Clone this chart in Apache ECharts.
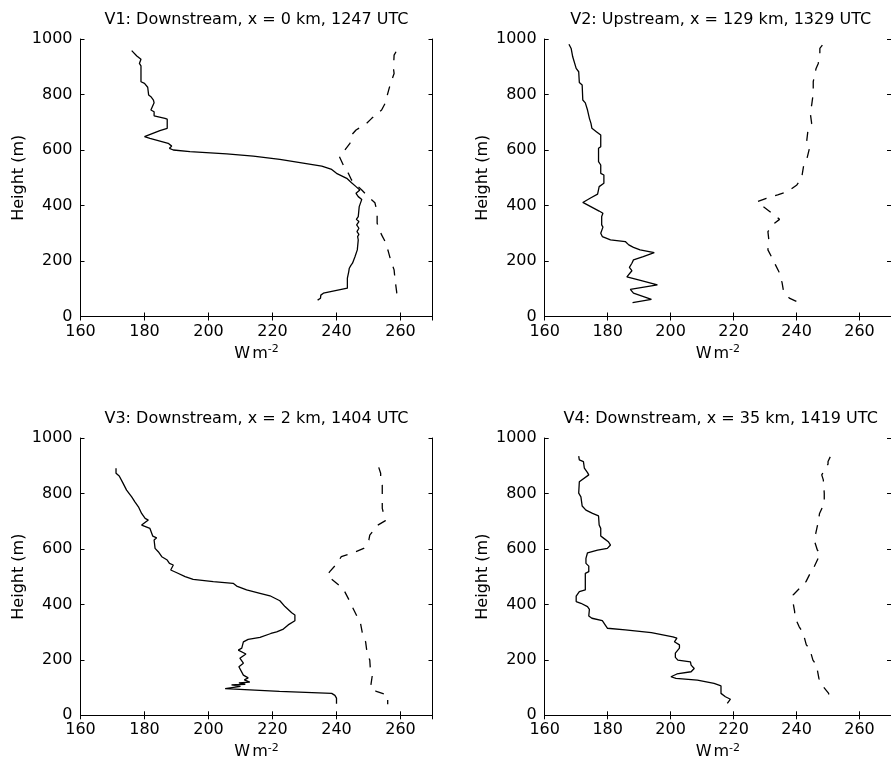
<!DOCTYPE html>
<html>
<head>
<meta charset="utf-8">
<script src="https://cdn.jsdelivr.net/npm/echarts@6/dist/echarts.min.js"></script>
<style>html,body{margin:0;padding:0;background:#fff;}#chart{width:891px;height:775px;}</style>
</head>
<body>
<div id="chart"></div>
<script>
// Panel titles
const titles = [
  'V1: Downstream, x = 0 km, 1247 UTC',
  'V2: Upstream, x = 129 km, 1329 UTC',
  'V3: Downstream, x = 2 km, 1404 UTC',
  'V4: Downstream, x = 35 km, 1419 UTC'
];
const xTickMin = 160, xTickMax = 270, xTickStep = 20;
const yTickMin = 0, yTickMax = 1000, yTickStep = 200;

// [W m-2, height m]
const v1Solid = [[176.0,958],[177.6,939],[178.9,927],[178.4,912],[178.9,903],[178.9,846],[180.0,840],[181.0,826],[181.3,798],[182.0,792],[182.8,780],[183.0,770],[182.0,744],[183.0,738],[183.0,723],[186.4,714],[187.1,711],[187.1,678],[184.8,670],[180.0,648],[181.7,642],[187.4,624],[188.5,614],[187.8,606],[189.0,600],[194.2,594],[205.7,586],[214.0,578],[222.3,566],[235.4,542],[238.5,530],[240.0,516],[243.2,498],[244.7,482],[246.1,468],[247.3,456],[246.1,444],[246.8,432],[247.9,422],[247.1,396],[246.8,360],[246.2,350],[247.0,342],[246.3,330],[247.0,318],[246.4,306],[247.0,296],[246.6,288],[246.8,276],[246.5,240],[245.8,216],[245.0,192],[244.5,184],[244.0,174],[243.8,160],[243.4,138],[243.4,102],[243.0,95],[235.9,84],[235.1,77],[235.0,66],[234.1,59]];
const v1Dashed = [[258.6,954],[258.0,942],[257.8,894],[258.0,876],[256.9,840],[256.3,816],[255.2,768],[254.1,744],[251.0,714],[249.4,696],[246.1,672],[244.7,654],[244.2,624],[242.6,600],[240.9,576],[242.6,534],[243.7,516],[244.7,492],[246.8,468],[247.9,456],[249.9,432],[252.0,410],[252.7,378],[252.7,336],[254.1,294],[255.2,270],[256.2,234],[256.9,204],[258.0,168],[258.3,132],[258.8,89],[259.0,59]];
const v2Solid = [[167.7,981],[168.4,966],[168.9,936],[170.0,894],[170.8,882],[171.0,843],[171.9,834],[172.1,780],[172.9,770],[173.6,744],[174.2,714],[174.7,696],[175.0,678],[176.4,666],[177.8,654],[177.8,612],[177.1,606],[177.1,558],[177.8,546],[177.8,516],[178.8,510],[178.8,480],[177.3,468],[176.8,441],[174.7,428],[172.1,411],[177.3,380],[178.5,372],[178.1,360],[178.1,330],[178.5,322],[177.8,300],[178.3,288],[180.9,276],[185.6,270],[186.7,258],[188.2,249],[190.3,240],[194.8,230],[191.3,216],[188.2,204],[187.7,192],[186.9,177],[187.7,165],[186.1,143],[189.8,132],[195.8,114],[187.2,98],[188.2,84],[193.9,62],[187.9,50]];
const v2Dashed = [[248.2,978],[247.4,966],[247.4,951],[246.9,912],[246.2,894],[245.3,846],[245.3,804],[244.8,762],[244.3,738],[244.8,696],[243.7,678],[243.2,630],[244.1,606],[243.2,564],[242.2,540],[241.6,498],[240.1,474],[237.2,450],[234.0,438],[230.4,426],[227.5,414],[229.4,396],[232.0,374],[234.6,350],[233.0,336],[230.9,306],[231.2,276],[230.9,240],[232.0,216],[233.3,186],[234.4,161],[235.4,122],[235.8,95],[237.7,66],[240.8,50]];
const v3Solid = [[171.1,891],[171.1,873],[172.1,863],[173.2,839],[174.4,812],[176.0,788],[177.0,770],[178.1,752],[179.1,728],[180.2,710],[181.2,704],[179.1,686],[181.7,674],[182.6,646],[183.8,640],[183.0,632],[183.3,602],[184.3,590],[185.4,572],[187.1,560],[187.8,548],[189.0,542],[188.2,524],[190.1,514],[192.7,500],[195.2,490],[201.5,482],[207.7,476],[208.8,466],[211.9,452],[216.1,440],[219.2,431],[222.3,413],[223.9,392],[226.0,370],[227.0,362],[227.0,341],[224.9,326],[223.4,311],[221.3,301],[219.5,295],[216.1,281],[212.4,274],[210.9,265],[210.4,242],[209.3,235],[211.7,221],[209.8,206],[210.9,188],[209.5,175],[210.9,145],[212.4,135],[211.2,128],[212.9,120],[209.5,117],[211.5,112],[207.2,110],[210.0,104],[205.2,96],[222.2,86],[238.5,79],[239.5,72],[240.0,62],[240.0,42]];
const v3Dashed = [[253.2,894],[253.8,873],[253.8,855],[254.3,830],[254.3,782],[254.3,746],[255.3,702],[252.9,686],[250.4,650],[250.1,632],[248.5,602],[245.2,586],[241.5,572],[240.2,548],[237.9,518],[237.1,506],[238.1,494],[240.7,470],[242.3,452],[244.2,410],[244.9,392],[246.7,350],[247.5,332],[248.3,283],[249.1,265],[249.6,221],[250.4,199],[250.6,163],[251.2,145],[250.6,97],[252.7,85],[256.0,73],[256.0,40]];
const v4Solid = [[170.8,935],[171.0,921],[172.3,915],[172.6,891],[173.6,875],[174.0,867],[171.0,842],[170.8,801],[171.5,788],[171.9,755],[173.1,740],[175.2,728],[177.1,719],[177.3,686],[177.8,674],[177.8,647],[178.8,638],[180.2,626],[180.9,614],[179.9,602],[176.8,596],[173.6,586],[173.1,566],[173.1,548],[174.0,538],[174.0,518],[172.9,512],[172.9,452],[171.0,446],[170.0,430],[170.0,410],[171.5,404],[173.6,392],[174.2,382],[174.0,358],[175.0,350],[178.3,341],[179.2,326],[179.9,314],[185.6,308],[193.9,298],[200.7,283],[202.0,278],[201.2,265],[202.8,254],[202.8,242],[201.5,224],[201.5,209],[202.3,199],[206.3,193],[206.5,181],[207.5,169],[206.5,157],[202.0,149],[200.1,139],[201.7,133],[208.5,127],[213.8,115],[216.0,106],[216.0,79],[217.4,67],[219.0,58],[218.0,43]];
const v4Dashed = [[250.7,932],[250.0,915],[250.0,906],[248.0,867],[248.5,849],[248.8,801],[248.8,765],[247.3,728],[246.9,698],[246.1,656],[245.6,632],[246.6,596],[247.6,584],[245.6,536],[244.6,518],[243.0,482],[241.5,464],[238.9,434],[238.9,406],[239.4,374],[239.4,356],[240.8,320],[242.1,296],[243.1,254],[244.1,242],[245.2,199],[246.3,181],[247.1,133],[248.1,109],[250.2,79],[250.2,43]];

const solids = [v1Solid, v2Solid, v3Solid, v4Solid];
const dashes = [v1Dashed, v2Dashed, v3Dashed, v4Dashed];

const FONT = '"DejaVu Sans", "Liberation Sans", Arial, sans-serif';
const panels = [
  {left: 80.5, top: 39, width: 352, height: 277.5},
  {left: 544.7, top: 39, width: 352, height: 277.5},
  {left: 80.5, top: 438, width: 352, height: 277.3},
  {left: 544.7, top: 438, width: 352, height: 277.3}
];

const grid = [], xAxis = [], yAxis = [], series = [], title = [];
const axLine = {show: true, lineStyle: {color: '#000', width: 1}};
const tick = {show: true, inside: true, length: 4, lineStyle: {color: '#000', width: 1}};
panels.forEach((p, i) => {
  grid.push({left: p.left, top: p.top, width: p.width, height: p.height, containLabel: false, show: false});
  title.push({text: titles[i], left: p.left + p.width / 2, top: p.top - 27, textAlign: 'center', padding: 0,
    textStyle: {fontFamily: FONT, fontSize: 16, fontWeight: 'normal', color: '#000'}});
  xAxis.push({type: 'value', gridIndex: i, position: 'bottom', min: xTickMin, max: xTickMax, interval: xTickStep,
    axisLine: axLine, axisTick: tick, splitLine: {show: false},
    axisLabel: {show: true, showMaxLabel: false, margin: 7, color: '#000', fontFamily: FONT, fontSize: 16},
    name: '{w|W}{m|m}{sup|-2}', nameLocation: 'middle', nameGap: 27,
    nameTextStyle: {color: '#000', fontFamily: FONT, fontSize: 16,
      rich: {
        w: {fontFamily: FONT, fontSize: 16, color: '#000'},
        m: {fontFamily: FONT, fontSize: 16, color: '#000', padding: [0, 0, 0, 2]},
        sup: {fontFamily: FONT, fontSize: 11, color: '#000', padding: [0, 0, 9, 0]}
      }}});
  xAxis.push({type: 'value', gridIndex: i, position: 'top', min: xTickMin, max: xTickMax, interval: xTickStep,
    axisLine: axLine, axisTick: tick, splitLine: {show: false}, axisLabel: {show: false}});
  yAxis.push({type: 'value', gridIndex: i, position: 'left', min: yTickMin, max: yTickMax, interval: yTickStep,
    axisLine: axLine, axisTick: tick, splitLine: {show: false},
    axisLabel: {show: true, margin: 8, color: '#000', fontFamily: FONT, fontSize: 16,
      formatter: v => String(v)},
    name: 'Height (m)', nameLocation: 'middle', nameGap: 54, nameRotate: 90,
    nameTextStyle: {color: '#000', fontFamily: FONT, fontSize: 16}});
  yAxis.push({type: 'value', gridIndex: i, position: 'right', min: yTickMin, max: yTickMax, interval: yTickStep,
    axisLine: axLine, axisTick: tick, splitLine: {show: false}, axisLabel: {show: false}});
  series.push({type: 'line', xAxisIndex: 2 * i, yAxisIndex: 2 * i, data: solids[i], showSymbol: false, symbol: 'none',
    lineStyle: {color: '#000', width: 1.3, type: 'solid'}, silent: true, animation: false});
  series.push({type: 'line', xAxisIndex: 2 * i, yAxisIndex: 2 * i, data: dashes[i], showSymbol: false, symbol: 'none',
    lineStyle: {color: '#000', width: 1.3, type: [9, 9]}, silent: true, animation: false});
});

const chart = echarts.init(document.getElementById('chart'), null, {renderer: 'canvas'});
chart.setOption({backgroundColor: '#fff', animation: false, title, grid, xAxis, yAxis, series});
</script>
</body>
</html>
